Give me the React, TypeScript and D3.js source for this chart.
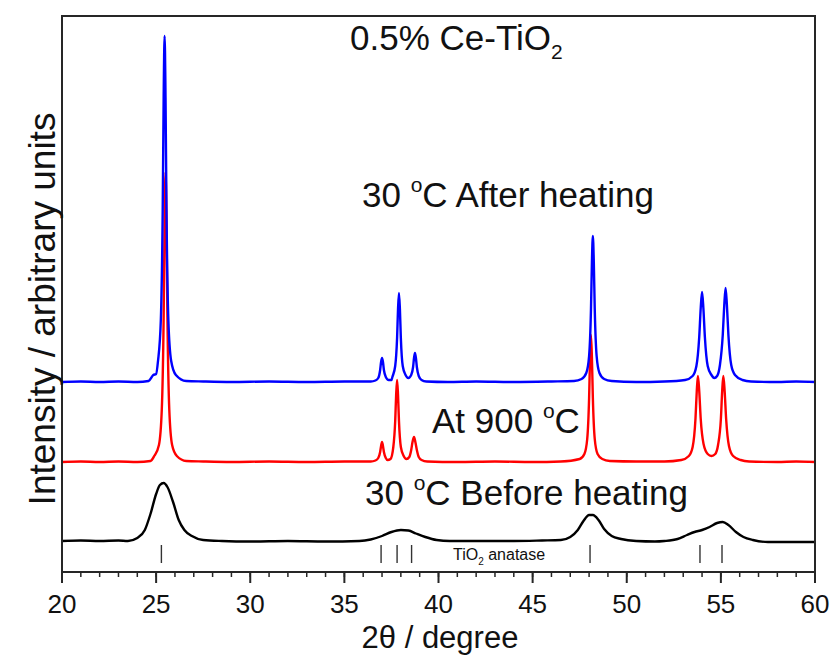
import React from "react";
import * as d3 from "d3";

// 2θ ticks
const majorTicks = [20, 25, 30, 35, 40, 45, 50, 55, 60];
const minorTicks = d3.range(20, 61, 1);

// Anatase reference positions (2θ)
const anataseRefs = [25.28, 36.95, 37.8, 38.57, 48.05, 53.89, 55.06];

// 30 °C after heating (blue), [2θ, intensity]
const afterHeating: [number, number][] = [
  [20, 190], [21, 190.5], [22, 190], [23, 190.5], [24, 190], [24.6, 191], [24.85, 197], [25.0, 198],
  [25.1, 211], [25.25, 252], [25.35, 363], [25.4, 474], [25.45, 536], [25.5, 474], [25.55, 363],
  [25.65, 252], [25.8, 211], [26.05, 197], [26.6, 191], [27.5, 190.5], [29, 190], [31, 190.5],
  [33, 190], [35, 190.5], [36.4, 190.5], [36.65, 191.5], [36.8, 194], [36.9, 202], [36.95, 210],
  [37.0, 214], [37.05, 210], [37.1, 202], [37.2, 195], [37.35, 192], [37.5, 192], [37.55, 195],
  [37.7, 206], [37.8, 234], [37.85, 263], [37.9, 279], [37.95, 263], [38.0, 234], [38.1, 206],
  [38.25, 197], [38.4, 194], [38.55, 197], [38.65, 205], [38.7, 214], [38.75, 219], [38.8, 214],
  [38.85, 205], [38.95, 196], [39.1, 192], [39.35, 190.5], [40.5, 190], [42, 190.5], [44, 190],
  [46, 190.5], [47.2, 191], [47.6, 193], [47.85, 199], [48.0, 216], [48.1, 263], [48.15, 310],
  [48.2, 336], [48.25, 310], [48.3, 263], [48.4, 216], [48.55, 199], [48.8, 193], [49.2, 191],
  [50.5, 190], [52, 190.5], [53.1, 192], [53.5, 196], [53.7, 206], [53.85, 235], [53.93, 264],
  [54.0, 280], [54.07, 264], [54.15, 235], [54.3, 206], [54.5, 197], [54.65, 194], [54.8, 196],
  [54.95, 207], [55.1, 237], [55.18, 267], [55.25, 284], [55.32, 267], [55.4, 237], [55.55, 207],
  [55.75, 197], [56.15, 192], [56.6, 190.5], [58, 190], [59, 190.5], [60, 190],
];

// At 900 °C (red)
const at900: [number, number][] = [
  [20, 110], [21, 110.5], [22, 110], [23, 110.5], [24, 110], [24.7, 111], [24.9, 116], [25.15, 127],
  [25.3, 162], [25.4, 255], [25.45, 348], [25.5, 400], [25.55, 348], [25.6, 255], [25.7, 162],
  [25.85, 127], [26.1, 116], [26.6, 111], [27.5, 110.5], [29, 110], [31, 110.5], [33, 110],
  [35, 110.5], [36.4, 110.5], [36.65, 111.5], [36.8, 114], [36.9, 120], [36.95, 126], [37.0, 130],
  [37.05, 126], [37.1, 120], [37.2, 114], [37.3, 112], [37.45, 113], [37.6, 125], [37.7, 151],
  [37.75, 177], [37.8, 192], [37.85, 177], [37.9, 151], [38.0, 125], [38.15, 116], [38.3, 113],
  [38.45, 115], [38.55, 122], [38.62, 130], [38.7, 135], [38.77, 130], [38.85, 122], [38.95, 115],
  [39.1, 112], [39.4, 110.5], [41, 110], [43, 110.5], [45, 110], [46.5, 110.5], [47.5, 113],
  [47.75, 118], [47.9, 133], [48.0, 174], [48.05, 214], [48.1, 237], [48.15, 214], [48.2, 174],
  [48.3, 133], [48.45, 118], [48.7, 113], [49.1, 111], [50.5, 110.5], [52, 110.5], [52.9, 112],
  [53.3, 116], [53.5, 125], [53.65, 153], [53.72, 181], [53.78, 196], [53.85, 181], [53.93, 153],
  [54.08, 128], [54.3, 118], [54.5, 116], [54.7, 118], [54.85, 127], [55.0, 153], [55.07, 181],
  [55.13, 196], [55.2, 181], [55.28, 153], [55.43, 126], [55.65, 116], [56.05, 112], [56.5, 110.5],
  [58, 110], [59, 110.5], [60, 110],
];

// 30 °C before heating (black)
const beforeHeating: [number, number][] = [
  [20, 31], [21, 31.5], [22, 31], [23, 31.5], [23.5, 31], [24.0, 34], [24.4, 42], [24.7, 58],
  [25.0, 78], [25.2, 87], [25.4, 89], [25.6, 85], [25.9, 70], [26.2, 52], [26.5, 42], [26.9, 36],
  [27.5, 32], [28.5, 31], [30, 30.5], [32, 31], [34, 30.5], [35.8, 31], [36.4, 32.5], [37.0, 36],
  [37.5, 40], [38.0, 42], [38.4, 41.5], [38.8, 38.5], [39.3, 35], [39.9, 32], [40.6, 31], [42, 31],
  [44, 31], [45.5, 31.5], [46.5, 32], [47.0, 35], [47.4, 42], [47.7, 51], [48.0, 57], [48.2, 57],
  [48.5, 52], [48.8, 43], [49.2, 36], [49.7, 33], [50.5, 31], [51.5, 30.5], [52.0, 31], [52.7, 33],
  [53.2, 37], [53.6, 40], [54.0, 42], [54.4, 45], [54.8, 49], [55.1, 50], [55.4, 47], [55.8, 40],
  [56.2, 35], [56.7, 32], [57.5, 30], [59, 30], [60, 30],
];

const W = 836;
const H = 662;
const left = 62;
const right = 815;
const top = 16;
const bottom = 572;

export default function App() {
  const x = d3.scaleLinear().domain([20, 60]).range([left, right]);
  const y = d3.scaleLinear().domain([0, 556]).range([bottom, top]);
  const line = d3
    .line<[number, number]>()
    .x((d) => x(d[0]))
    .y((d) => y(d[1]))
    .curve(d3.curveMonotoneX);

  const font = "'Liberation Sans', Arial, Helvetica, sans-serif";

  return (
    <div style={{ position: "absolute", left: 0, top: 0 }}>
      <svg width={W} height={H} style={{ display: "block", background: "#fff" }} fontFamily={font}>
        <path d={line(beforeHeating) || ""} fill="none" stroke="#000" strokeWidth={2.4} />
        <path d={line(at900) || ""} fill="none" stroke="#ff0000" strokeWidth={2.4} />
        <path d={line(afterHeating) || ""} fill="none" stroke="#0000ff" strokeWidth={2.4} />

        {anataseRefs.map((v) => (
          <line key={v} x1={x(v)} x2={x(v)} y1={545} y2={563} stroke="#333" strokeWidth={1.4} />
        ))}

        <rect x={left} y={top} width={right - left} height={bottom - top} fill="none" stroke="#262626" strokeWidth={2} />

        {minorTicks.map((t) => (
          <line key={"m" + t} x1={x(t)} x2={x(t)} y1={bottom} y2={bottom + 5} stroke="#262626" strokeWidth={1.5} />
        ))}
        {majorTicks.map((t) => (
          <line key={"M" + t} x1={x(t)} x2={x(t)} y1={bottom} y2={bottom + 11} stroke="#262626" strokeWidth={2} />
        ))}
        {majorTicks.map((t) => (
          <text key={"l" + t} x={x(t)} y={613} textAnchor="middle" fontSize={26} fill="#111">
            {t}
          </text>
        ))}

        <text x={440} y={648} textAnchor="middle" fontSize={31} fill="#111">
          2θ / degree
        </text>
        <text
          transform={`translate(55, ${309}) rotate(-90)`}
          textAnchor="middle"
          fontSize={37}
          fill="#111"
        >
          Intensity / arbitrary units
        </text>

        <text x={350} y={50} fontSize={35} fill="#111">
          0.5% Ce-TiO
          <tspan fontSize={21} dy={9}>2</tspan>
        </text>

        <text x={362} y={207} fontSize={35} fill="#111">
          30 <tspan fontSize={21} dy={-15}>o</tspan>
          <tspan dy={15}>C After heating</tspan>
        </text>

        <text x={432} y={433} fontSize={35} fill="#111">
          At 900 <tspan fontSize={21} dy={-15}>o</tspan>
          <tspan dy={15}>C</tspan>
        </text>

        <text x={365} y={505} fontSize={35} fill="#111">
          30 <tspan fontSize={21} dy={-15}>o</tspan>
          <tspan dy={15}>C Before heating</tspan>
        </text>

        <text x={453} y={560} fontSize={16} fill="#111">
          TiO<tspan fontSize={10} dy={5}>2</tspan>
          <tspan dy={-5}> anatase</tspan>
        </text>
      </svg>
    </div>
  );
}
